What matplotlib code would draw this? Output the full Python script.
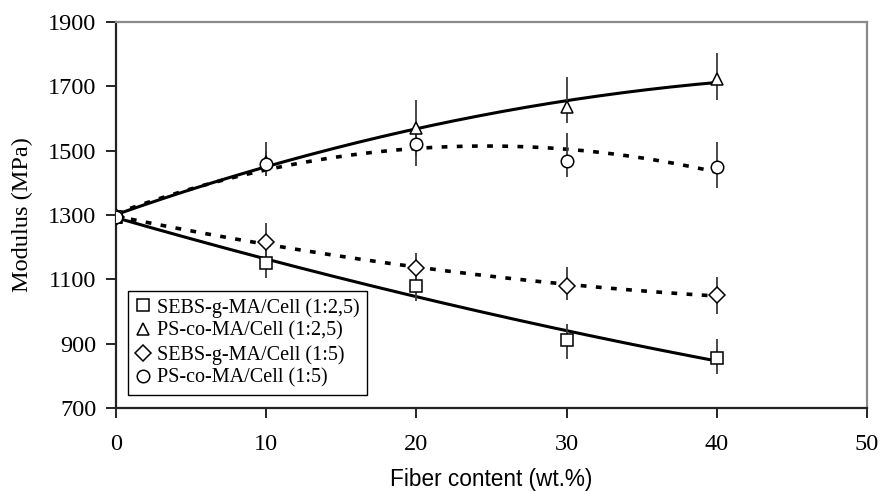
import numpy as np
import matplotlib
matplotlib.use('Agg')
import matplotlib.pyplot as plt

# data
fiber = [0, 10, 20, 30, 40]

sebs_25 = [1293, 1150, 1079, 910, 856]
sebs_25_lo = [0, 46, 46, 58, 51]
sebs_25_hi = [0, 46, 46, 51, 59]

ps_25 = [1293, 1466, 1572, 1635, 1722]
ps_25_lo = [0, 45, 87, 48, 63]
ps_25_hi = [0, 60, 87, 93, 82]

sebs_5 = [1293, 1217, 1136, 1080, 1051]
sebs_5_lo = [0, 58, 45, 44, 60]
sebs_5_hi = [0, 58, 45, 59, 57]

ps_5 = [1293, 1460, 1521, 1467, 1450]
ps_5_lo = [0, 40, 69, 50, 67]
ps_5_hi = [0, 40, 69, 89, 77]

labels = ["SEBS-g-MA/Cell (1:2,5)", "PS-co-MA/Cell (1:2,5)",
          "SEBS-g-MA/Cell (1:5)", "PS-co-MA/Cell (1:5)"]

serif = ['Liberation Serif', 'DejaVu Serif']

fig = plt.figure(figsize=(8.82, 4.91), dpi=100)
ax = fig.add_axes([0.1315, 0.169, 0.8515, 0.786])

series = [
    (sebs_25, sebs_25_lo, sebs_25_hi, 's', '-', labels[0]),
    (ps_25, ps_25_lo, ps_25_hi, '^', '-', labels[1]),
    (sebs_5, sebs_5_lo, sebs_5_hi, 'D', ':', labels[2]),
    (ps_5, ps_5_lo, ps_5_hi, 'o', ':', labels[3]),
]

xs = np.linspace(0, 40, 200)
handles = []
for y, lo, hi, mk, ls, lab in series:
    # polynomial trend line, like the spreadsheet one
    coef = np.polyfit(fiber, y, 2)
    if ls == '-':
        ax.plot(xs, np.polyval(coef, xs), color='black', lw=2.2, zorder=2)
    else:
        ax.plot(xs, np.polyval(coef, xs), color='black', lw=2.6,
                dashes=(1.6, 2.6), zorder=2)
    ax.errorbar(fiber, y, yerr=[lo, hi], fmt='none', ecolor='#3a3a3a',
                elinewidth=1.3, capsize=0, zorder=3)
    ms = 8 if mk == 'D' else 9
    h, = ax.plot(fiber, y, linestyle='none', marker=mk, ms=ms,
                 mfc='white', mec='black', mew=1.1, zorder=4, label=lab)
    handles.append(h)

ax.set_xlim(0, 50)
ax.set_ylim(700, 1900)
ax.set_xticks(range(0, 51, 10))
ax.set_yticks(range(700, 1901, 200))
ax.tick_params(direction='out', length=7, width=1.2, labelsize=17.5)
ax.tick_params(axis='y', pad=7)
ax.tick_params(axis='x', pad=12)
for t in ax.get_xticklabels() + ax.get_yticklabels():
    t.set_family(serif)

for s in ['left', 'bottom']:
    ax.spines[s].set_color('#222222')
    ax.spines[s].set_linewidth(1.6)
for s in ['top', 'right']:
    ax.spines[s].set_color('#8a8a8a')
    ax.spines[s].set_linewidth(1.6)

ax.set_ylabel("Modulus (MPa)", family=serif, fontsize=17.5, labelpad=11)
ax.set_xlabel("Fiber content (wt.%)", family=['Liberation Sans', 'DejaVu Sans'],
              fontsize=16.3, labelpad=9)

leg = ax.legend(handles=handles, loc='lower left',
                bbox_to_anchor=(0.0156, 0.034), prop={'family': serif, 'size': 14.5},
                fancybox=False, edgecolor='black', framealpha=1,
                handlelength=0.8, handletextpad=0.3, borderpad=0.35,
                labelspacing=0.2, borderaxespad=0)
leg.get_frame().set_linewidth(1.0)

plt.savefig("out.png", dpi=100)
plt.close()
